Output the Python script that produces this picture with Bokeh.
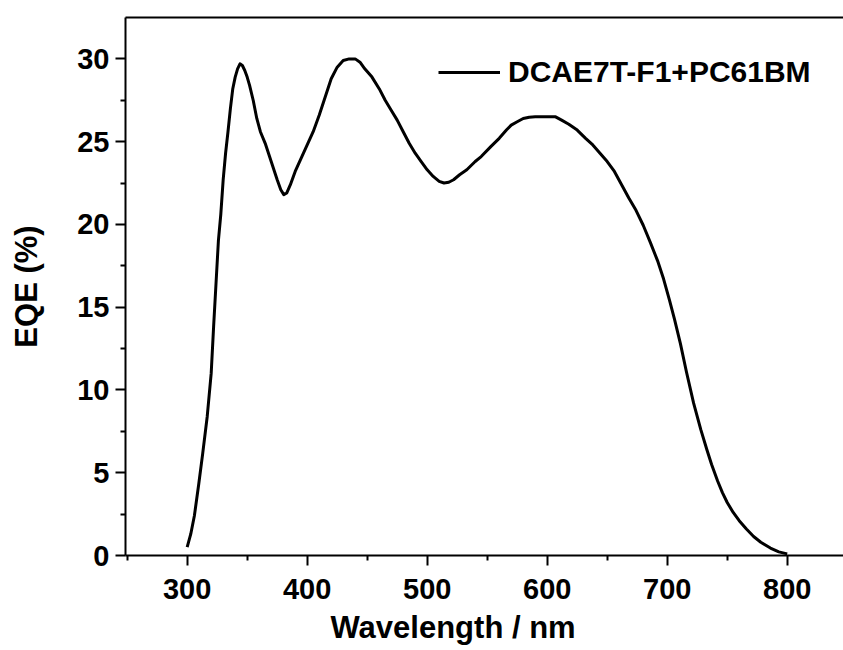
from bokeh.plotting import figure
from bokeh.models import (Range1d, LinearAxis, FixedTicker, Legend, LegendItem, Title)
from bokeh.embed import file_html
from bokeh.resources import INLINE

wavelength = [300, 303, 306, 309.7, 313, 316.7, 320, 322, 324, 326, 328, 330, 332, 334,
              336, 338, 340, 342, 344, 346, 348, 350, 352, 355, 358, 361, 365, 370, 375,
              378, 380.5, 383, 386, 390, 395, 400, 405, 410, 415, 420, 425, 430, 435,
              440, 444, 448, 454, 460, 465, 470, 475, 480, 485, 490, 495, 500, 505, 510,
              514, 518, 522, 527, 533, 540, 545, 553, 560, 566, 570, 575, 580, 585, 590,
              600, 607, 612, 618, 625, 632, 638, 644, 650, 656, 662, 668, 674, 680, 686,
              692, 697, 702, 706, 711, 716, 722, 728, 733, 737, 742, 746, 750, 755, 760,
              766, 772, 778, 786, 793, 800]
eqe = [0.5, 1.3, 2.4, 4.35, 6.2, 8.4, 11.0, 13.8, 16.4, 19.0, 20.6, 22.7, 24.3, 25.6,
       27.0, 28.2, 28.9, 29.4, 29.7, 29.6, 29.3, 28.9, 28.4, 27.5, 26.4, 25.6, 24.9, 23.8, 22.7,
       22.1, 21.8, 21.9, 22.4, 23.2, 24.0, 24.8, 25.6, 26.6, 27.7, 28.8, 29.5, 29.9, 30.0,
       30.0, 29.8, 29.4, 28.9, 28.2, 27.5, 26.9, 26.3, 25.6, 24.9, 24.3, 23.8, 23.3, 22.9, 22.6,
       22.5, 22.55, 22.7, 23.0, 23.3, 23.8, 24.1, 24.7, 25.2, 25.7, 26.0, 26.2, 26.4, 26.47, 26.5,
       26.5, 26.5, 26.3, 26.05, 25.7, 25.2, 24.8, 24.3, 23.8, 23.2, 22.4, 21.6, 20.85, 19.95, 18.9,
       17.8, 16.7, 15.4, 14.3, 12.8, 11.1, 9.2, 7.6, 6.4, 5.5, 4.5, 3.8, 3.2, 2.6, 2.1,
       1.6, 1.15, 0.8, 0.45, 0.22, 0.1]
series_name = "DCAE7T-F1+PC61BM"
x_ticks = [300, 400, 500, 600, 700, 800]
y_ticks = [0, 5, 10, 15, 20, 25, 30]
x_title = "Wavelength / nm"
y_title = "EQE (%)"

FONT = "Liberation Sans"

p = figure(width=843, height=650, output_backend="svg", toolbar_location=None,
           x_range=Range1d(248.6, 846.9), y_range=Range1d(0, 32.5),
           min_border_left=125, min_border_right=0, min_border_top=17, min_border_bottom=95)
p.background_fill_color = "white"
p.border_fill_color = "white"
p.outline_line_color = None
p.xgrid.visible = False
p.ygrid.visible = False

r = p.line(wavelength, eqe, line_color="black", line_width=3, line_join="round")

for ax, ticks, minors in ((p.xaxis[0], x_ticks, [250 + 100 * i for i in range(6)]),
                          (p.yaxis[0], y_ticks, [2.5 + 5 * i for i in range(6)])):
    ax.ticker = FixedTicker(ticks=ticks, minor_ticks=minors)
    ax.axis_line_width = 2
    ax.axis_line_color = "black"
    ax.major_tick_line_width = 2
    ax.minor_tick_line_width = 2
    ax.major_tick_in = 0
    ax.major_tick_out = 10
    ax.minor_tick_in = 0
    ax.minor_tick_out = 5
    ax.major_label_text_font = FONT
    ax.major_label_text_font_style = "bold"
    ax.major_label_text_font_size = "29px"
    ax.major_label_text_color = "black"

p.xaxis[0].major_label_standoff = 13
p.yaxis[0].major_label_standoff = 6
p.yaxis[0].axis_label = y_title
p.yaxis[0].axis_label_text_font = FONT
p.yaxis[0].axis_label_text_font_style = "bold"
p.yaxis[0].axis_label_text_font_size = "31px"
p.yaxis[0].axis_label_text_color = "black"
p.yaxis[0].axis_label_standoff = 30

top = LinearAxis(ticker=FixedTicker(ticks=[]), axis_line_width=2, axis_line_color="black",
                 major_tick_line_color=None, minor_tick_line_color=None,
                 major_label_text_font_size="0px")
p.add_layout(top, "above")

xt = Title(text=x_title, align="left", offset=205, standoff=12,
           text_font=FONT, text_font_style="bold", text_font_size="31px", text_color="black")
p.add_layout(xt, "below")

legend = Legend(items=[LegendItem(label=series_name, renderers=[r])],
                location=(313, 466), glyph_width=62, glyph_height=30, label_standoff=8,
                padding=0, margin=0, border_line_color=None, background_fill_alpha=0,
                label_text_font=FONT, label_text_font_style="bold",
                label_text_font_size="30px", label_text_color="black")
p.add_layout(legend)

open("out.html", "w").write(file_html(p, INLINE))
